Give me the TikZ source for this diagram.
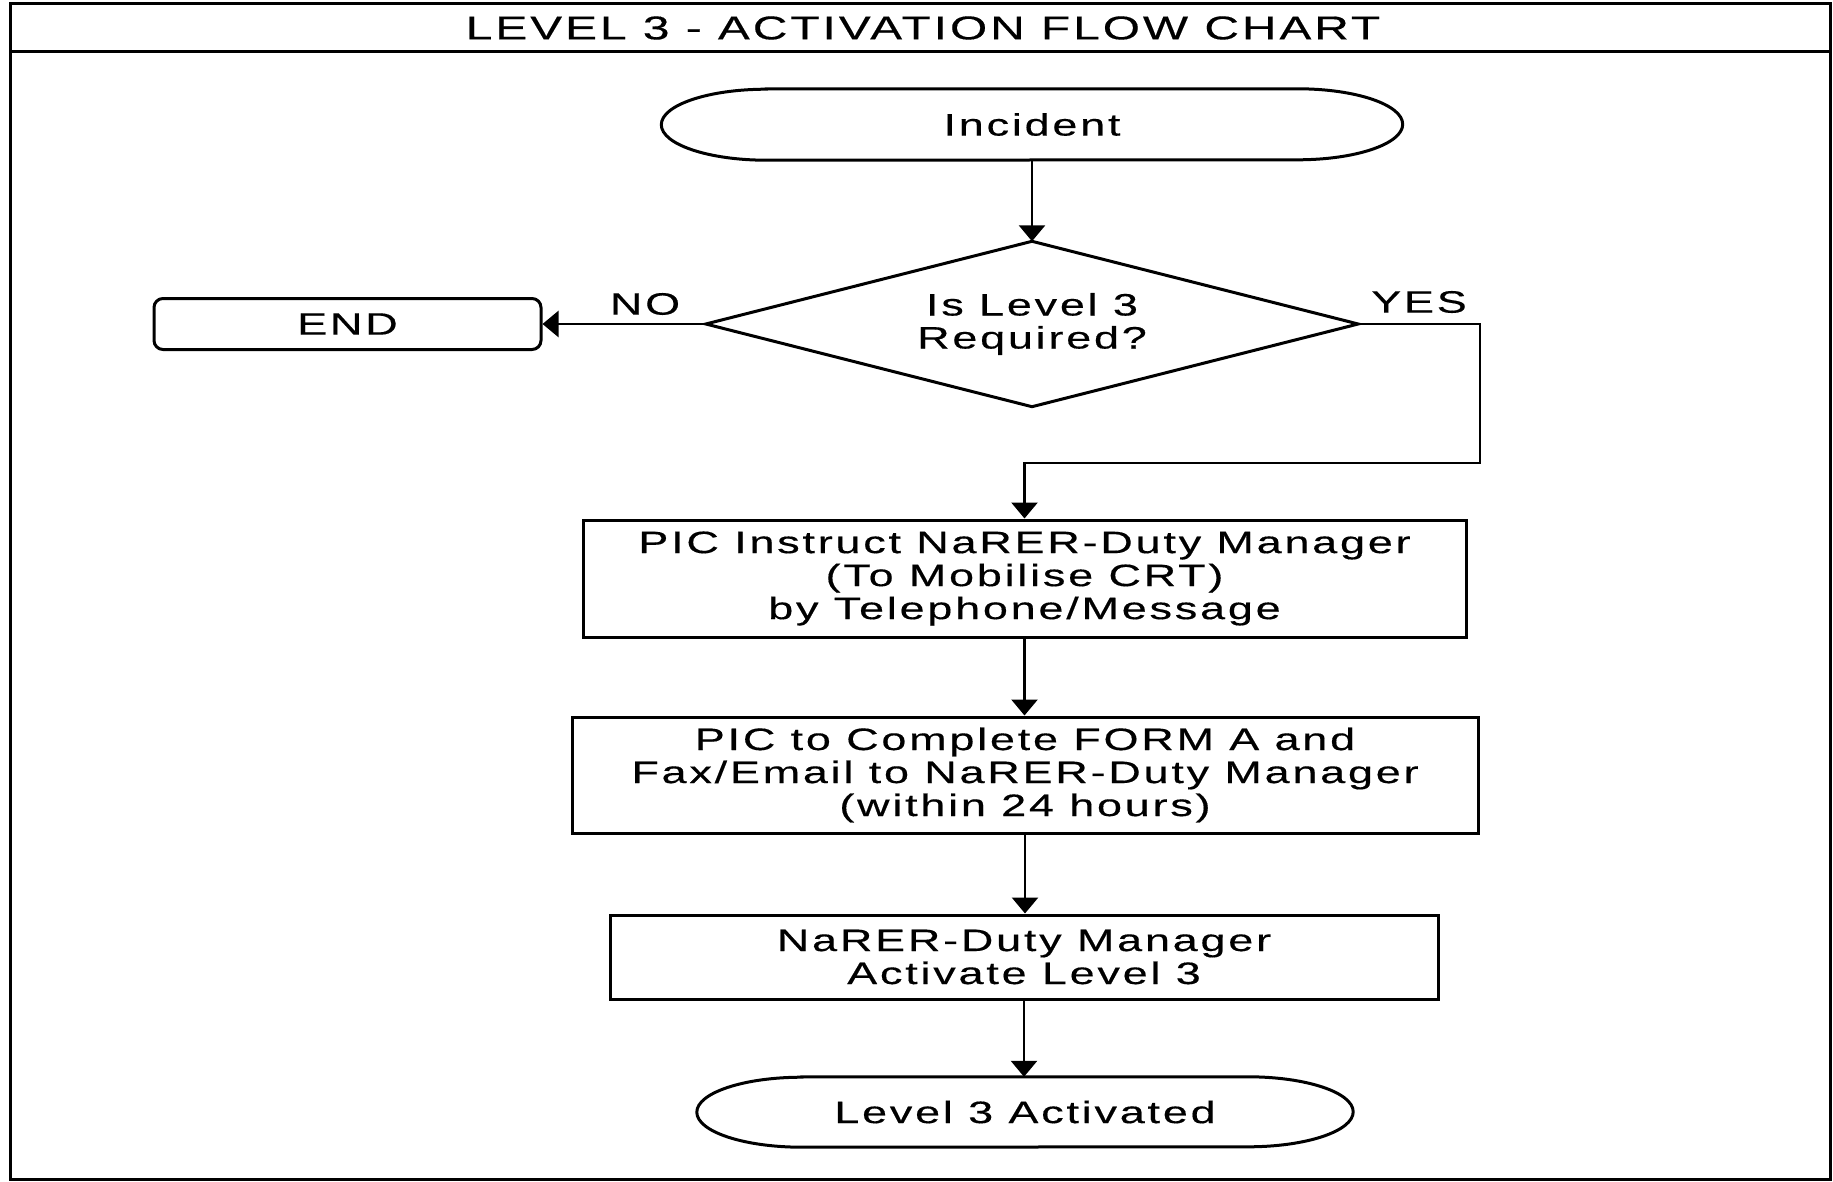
\documentclass[tikz,border=0pt]{standalone}
\usepackage{fontspec}
\setmainfont{Liberation Sans}[FakeStretch=1.45,LetterSpace=9,FakeBold=0.4]
\usetikzlibrary{arrows.meta}
\tikzset{
  txt/.style={font=\fontsize{31}{33}\selectfont, align=center, inner sep=0pt},
  boxn/.style={txt, draw, line width=3pt, rectangle},
  termn/.style={txt, rectangle},
  conn/.style={line width=2.7pt, -{Triangle[width=26pt,length=16pt]}},
  frame/.style={line width=3pt},
  lab/.style={font=\fontsize{31}{33}\selectfont, inner sep=0pt},
  titlelab/.style={font=\fontsize{33}{35}\selectfont, inner sep=0pt}
}
\begin{document}
\begin{tikzpicture}[x=1pt,y=-1pt]
\useasboundingbox (0,0) rectangle (1833,1182);
% frame and title band
\draw[frame] (10,4) rectangle (1830,1179);
\draw[frame] (10,52) -- (1830,52);
\node[titlelab] (title) at (923,28) {LEVEL 3 - ACTIVATION FLOW CHART};

% nodes
\node[termn, minimum width=741pt, minimum height=71pt] (inc) at (1032,124.5) {Incident};
\draw[line width=3pt] ([xshift=105pt]inc.north west) -- ([xshift=-105pt]inc.north east)
  arc[start angle=90,end angle=-90,x radius=105pt,y radius=35.5pt]
  -- ([xshift=105pt]inc.south west)
  arc[start angle=270,end angle=90,x radius=105pt,y radius=35.5pt] -- cycle;

\node[txt, rectangle, minimum width=652pt, minimum height=165pt] (dec) at (1032,324) {Is Level 3\\Required?};
\draw[line width=3pt] (dec.north) -- (dec.east) -- (dec.south) -- (dec.west) -- cycle;

\node[boxn, rounded corners=9pt, minimum width=387pt, minimum height=51pt] (endn) at (347.5,324) {END};

\node[boxn, minimum width=883pt, minimum height=117pt] (b1) at (1024.5,578.5) {PIC Instruct NaRER-Duty Manager\\(To Mobilise CRT)\\by Telephone/Message};
\node[boxn, minimum width=906pt, minimum height=116pt] (b2) at (1025,775) {PIC to Complete FORM A and\\Fax/Email to NaRER-Duty Manager\\(within 24 hours)};
\node[boxn, minimum width=828pt, minimum height=84pt] (b3) at (1024,957) {NaRER-Duty Manager\\Activate Level 3};

\node[termn, minimum width=656pt, minimum height=70pt] (fin) at (1025,1112) {Level 3 Activated};
\draw[line width=3pt] ([xshift=105pt]fin.north west) -- ([xshift=-105pt]fin.north east)
  arc[start angle=90,end angle=-90,x radius=105pt,y radius=35pt]
  -- ([xshift=105pt]fin.south west)
  arc[start angle=270,end angle=90,x radius=105pt,y radius=35pt] -- cycle;

% connectors
\draw[conn] (inc.south) -- (dec.north);
\draw[conn] (dec.west) -- (endn.east);
\coordinate (ycorner) at (1480,463);
\draw[conn] (dec.east) -| (ycorner) -| (b1.north);
\draw[conn] (b1.south) -- (b1.south |- b2.north);
\draw[conn] (b2.south) -- (b2.south |- b3.north);
\draw[conn] (b3.south) -- (b3.south |- fin.north);

% labels
\node[lab] (nolab) at (645,304) {NO};
\node[lab] (yeslab) at (1419,302) {YES};
\end{tikzpicture}
\end{document}
